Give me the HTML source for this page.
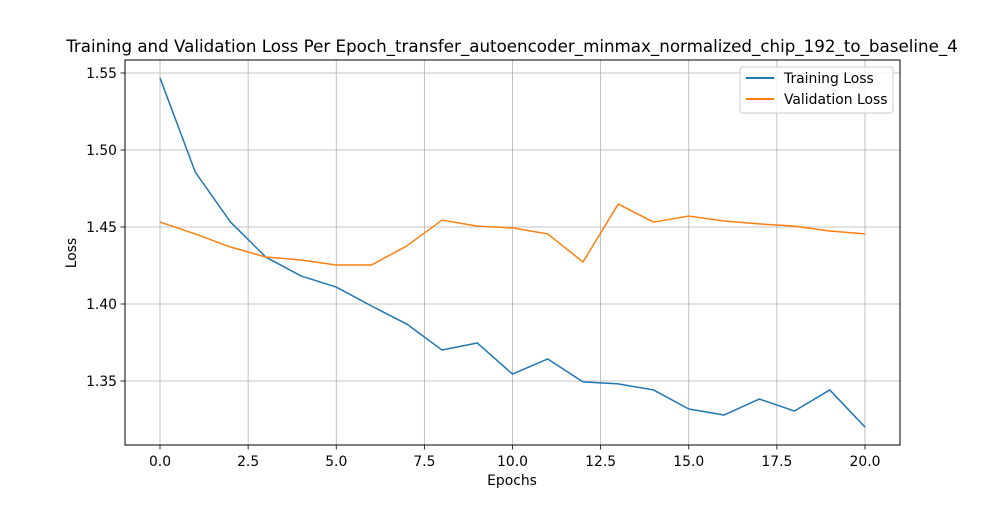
<!DOCTYPE html>
<html><head><meta charset="utf-8"><style>
body{margin:0;background:#fff;}
svg text{font-family:"DejaVu Sans","Liberation Sans",sans-serif;fill:#000;}
</style></head><body>
<svg id="chart" width="1000" height="500" viewBox="0 0 1000 500">
<rect x="0" y="0" width="1000" height="500" fill="#fff"/>
<text x="512" y="52" font-size="16.7" text-anchor="middle">Training and Validation Loss Per Epoch_transfer_autoencoder_minmax_normalized_chip_192_to_baseline_4</text>
<g id="grid"></g>
<g id="ticks"></g>
<g id="lines"></g>
<rect x="125" y="60" width="775" height="385" fill="none" stroke="#000" stroke-width="1"/>
<text x="512" y="485" font-size="13.9" text-anchor="middle">Epochs</text>
<text x="76" y="253" font-size="13.9" text-anchor="middle" transform="rotate(-90 76 253)">Loss</text>
<g>
<rect x="740" y="67" width="153" height="46" rx="3" fill="#fff" fill-opacity="0.8" stroke="#ccc"/>
<line x1="746" y1="78" x2="774" y2="78" stroke="#1f77b4" stroke-width="2"/>
<text x="784" y="83" font-size="13.9">Training Loss</text>
<line x1="746" y1="99" x2="774" y2="99" stroke="#ff7f0e" stroke-width="2"/>
<text x="784" y="104" font-size="13.9">Validation Loss</text>
</g>
</svg>
<script>
const epochs=[0,1,2,3,4,5,6,7,8,9,10,11,12,13,14,15,16,17,18,19,20];
const trainingLoss=[1.5468,1.4857,1.4532,1.4305,1.4182,1.411,1.3987,1.387,1.3701,1.3747,1.3545,1.3643,1.3494,1.3481,1.3442,1.3318,1.3279,1.3383,1.3305,1.3442,1.3201];
const validationLoss=[1.4532,1.4455,1.437,1.4305,1.4286,1.4253,1.4253,1.4377,1.4545,1.4506,1.4494,1.4455,1.4273,1.4649,1.4532,1.4571,1.4539,1.452,1.4506,1.4474,1.4455];
const xTicks=[0,2.5,5,7.5,10,12.5,15,17.5,20];
const xTickLabels=["0.0","2.5","5.0","7.5","10.0","12.5","15.0","17.5","20.0"];
const yTicks=[1.35,1.40,1.45,1.50,1.55];
const yTickLabels=["1.35","1.40","1.45","1.50","1.55"];
const NS="http://www.w3.org/2000/svg";
const X=v=>160+v*35.25;
const Y=v=>73+(1.55-v)*1540;
function mk(tag,attrs,parent){const e=document.createElementNS(NS,tag);for(const k in attrs)e.setAttribute(k,attrs[k]);parent.appendChild(e);return e;}
const grid=document.getElementById('grid'),ticks=document.getElementById('ticks'),lines=document.getElementById('lines');
xTicks.forEach((t,i)=>{
 const g=mk('line',{x1:X(t),x2:X(t),y1:60,y2:445,stroke:'#b0b0b0','stroke-width':0.8},grid);
 
 
 const tk=mk('line',{x1:X(t),x2:X(t),y1:445,y2:449.5,stroke:'#000','stroke-width':0.8},ticks);
 
 
 const tx=mk('text',{x:X(t),y:466,'font-size':13.9,'text-anchor':'middle'},ticks);
 tx.textContent=xTickLabels[i];
 
 
});
yTicks.forEach((t,i)=>{
 const g=mk('line',{x1:125,x2:900,y1:Y(t),y2:Y(t),stroke:'#b0b0b0','stroke-width':0.8},grid);
 
 
 const tk=mk('line',{x1:120.5,x2:125,y1:Y(t),y2:Y(t),stroke:'#000','stroke-width':0.8},ticks);
 
 
 const tx=mk('text',{x:117,y:Y(t)+5,'font-size':13.9,'text-anchor':'end'},ticks);
 tx.textContent=yTickLabels[i];
 
 
});
function pts(arr){return epochs.map((e,i)=>X(e)+','+Y(arr[i])).join(' ');}
const tl=mk('polyline',{points:pts(trainingLoss),fill:'none',stroke:'#1f77b4','stroke-width':1.5,'stroke-linejoin':'round'},lines);


const vl=mk('polyline',{points:pts(validationLoss),fill:'none',stroke:'#ff7f0e','stroke-width':1.5,'stroke-linejoin':'round'},lines);


</script>
</body></html>
